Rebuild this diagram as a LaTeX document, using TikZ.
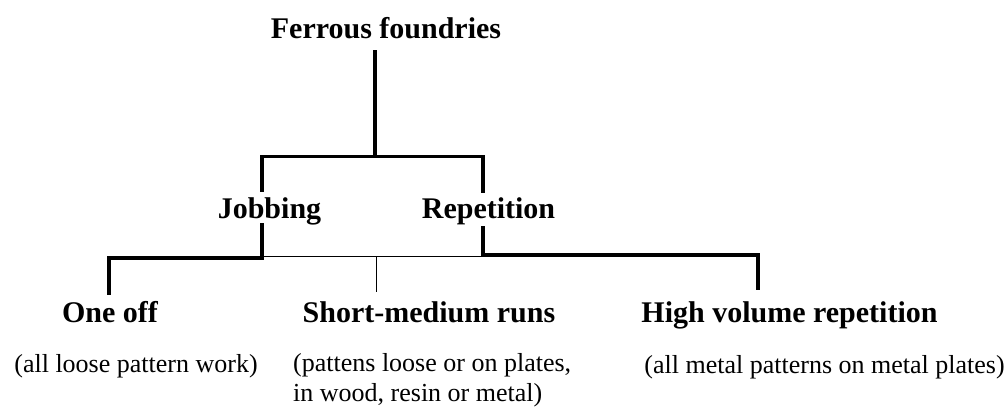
\documentclass[tikz,border=0pt]{standalone}
\usepackage{fontspec}
\setmainfont{Liberation Serif}
\begin{document}
\begin{tikzpicture}[x=1pt,y=-1pt,
  head/.style={font=\fontsize{30}{34}\selectfont\bfseries, anchor=base, inner sep=0pt},
  note/.style={font=\fontsize{26}{30}\selectfont, anchor=base, inner sep=0pt},
  thickline/.style={line width=3.6pt, line cap=rect, line join=miter},
  thinline/.style={line width=1.6pt}]
\useasboundingbox (0,0) rectangle (1008,407);
% text nodes
\node[head] (ferrous) at (386,38) {Ferrous foundries};
\node[head] (jobbing) at (269.5,218) {Jobbing};
\node[head] (repetition) at (488.5,218) {Repetition};
\node[head] (oneoff) at (110,322) {One off};
\node[head] (short) at (429,322) {Short-medium runs};
\node[head] (high) at (789.5,322) {High volume repetition};
\node[note] (noteone) at (136,372) {(all loose pattern work)};
\node[note, align=left, anchor=base west] (noteshort) at (293,401) {(pattens loose or on plates,\\in wood, resin or metal)};
\node[note] (notehigh) at (824.5,373) {(all metal patterns on metal plates)};
% junction coordinates
\coordinate (t1) at (375,52);
\coordinate (t2) at (375,156.5);
\coordinate (jl) at (262,156.5);
\coordinate (jlb) at (262,190);
\coordinate (jr) at (483,156.5);
\coordinate (jrb) at (483,191);
\coordinate (jt) at (262,225);
\coordinate (jb) at (262,258);
\coordinate (ol) at (109,258);
\coordinate (olb) at (109,293);
\coordinate (rt) at (483,228);
\coordinate (rb) at (483,255);
\coordinate (hr) at (758,255);
\coordinate (hrb) at (758,288);
\coordinate (ml) at (262,256.3);
\coordinate (mr) at (483,256.3);
\coordinate (mt) at (376.5,256.3);
\coordinate (mb) at (376.5,292);
% connectors
\draw[thickline] (t1) -- (t2);
\draw[thickline] (jlb) -- (jl) -- (jr) -- (jrb);
\draw[thickline] (jt) -- (jb) -- (ol) -- (olb);
\draw[thickline] (rt) -- (rb) -- (hr) -- (hrb);
\draw[thinline] (ml) -- (mr);
\draw[thinline] (mt) -- (mb);
\end{tikzpicture}
\end{document}
